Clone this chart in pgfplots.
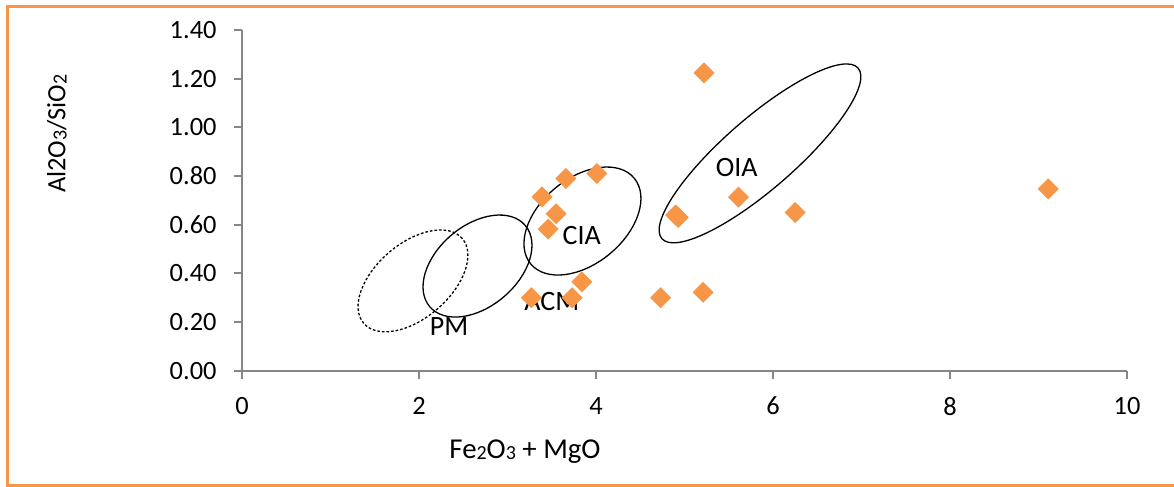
\documentclass[border=0pt]{standalone}
\usepackage{pgfplots}
\pgfplotsset{compat=1.18}
\usepackage{fontspec}
\setmainfont{Carlito}
\definecolor{xorange}{HTML}{F79646}
\definecolor{axgray}{HTML}{868686}
\newcommand{\sub}[1]{\raisebox{-0.6pt}{\fontsize{10}{10}\selectfont #1}}
\begin{document}
\begin{tikzpicture}[x=1pt,y=1pt]
\useasboundingbox (-121,-58.15) rectangle (466,185.35);
\begin{axis}[
  scale only axis,
  width=442.5pt, height=170.35pt,
  xmin=0, xmax=10, ymin=0, ymax=1.4,
  axis lines*=left,
  axis line style={axgray, line width=0.9pt},
  tick style={axgray, line width=0.9pt},
  tick align=outside,
  major tick length=4.2pt,
  xtick={0,2,4,6,8,10},
  ytick={0,0.2,0.4,0.6,0.8,1.0,1.2,1.4},
  yticklabel style={xshift=-5pt, /pgf/number format/.cd, fixed, fixed zerofill, precision=2},
  xticklabel style={yshift=-5.5pt},
  tick label style={font=\fontsize{13.2}{13.2}\selectfont, black},
  /pgf/number format/assume math mode=true,
  clip=false,
]
\addplot[only marks, mark=square*, mark size=3.5pt,
  mark options={rotate=45, fill=xorange, draw=xorange}]
  coordinates {
  (5.22,1.224) (9.11,0.747) (4.01,0.81) (3.66,0.79) (3.39,0.714)
  (3.55,0.645) (3.46,0.582) (4.90,0.64) (4.93,0.63) (5.61,0.713)
  (6.25,0.65) (4.73,0.30) (5.21,0.322) (3.84,0.365) (3.73,0.30)
  (3.27,0.30)
  };
\draw[black, line width=0.65pt, dash pattern=on 1.3pt off 1pt, rotate around={40.7:(axis cs:1.932,0.369)}] (axis cs:1.932,0.369) ellipse [x radius=32.5pt, y radius=18.6pt];
\draw[black, line width=0.65pt, rotate around={40.4:(axis cs:2.661,0.430)}] (axis cs:2.661,0.430) ellipse [x radius=31.35pt, y radius=20.25pt];
\draw[black, line width=0.65pt, rotate around={39.6:(axis cs:3.847,0.615)}] (axis cs:3.847,0.615) ellipse [x radius=33.6pt, y radius=21.35pt];
\draw[black, line width=0.65pt, rotate around={41:(axis cs:5.853,0.893)}] (axis cs:5.853,0.893) ellipse [x radius=65pt, y radius=17.8pt];
\node[font=\fontsize{14}{14}\selectfont] at (axis cs:2.34,0.180) {PM};
\node[font=\fontsize{14}{14}\selectfont] at (axis cs:3.50,0.283) {ACM};
\node[font=\fontsize{14}{14}\selectfont] at (axis cs:3.84,0.557) {CIA};
\node[font=\fontsize{14}{14}\selectfont] at (axis cs:5.59,0.833) {OIA};
\end{axis}
\node[font=\fontsize{13.2}{13.2}\selectfont, rotate=90] at (-92.5,118.5) {Al2O\sub{3}/SiO\sub{2}};
\node[font=\fontsize{14.4}{14.4}\selectfont] at (141.5,-40.5) {Fe\sub{2}O\sub{3} + MgO};
\draw[xorange, line width=1.6pt] (470,182.25) -- (-117.25,182.25) -- (-117.25,-57.3) -- (470,-57.3);
\end{tikzpicture}
\end{document}
